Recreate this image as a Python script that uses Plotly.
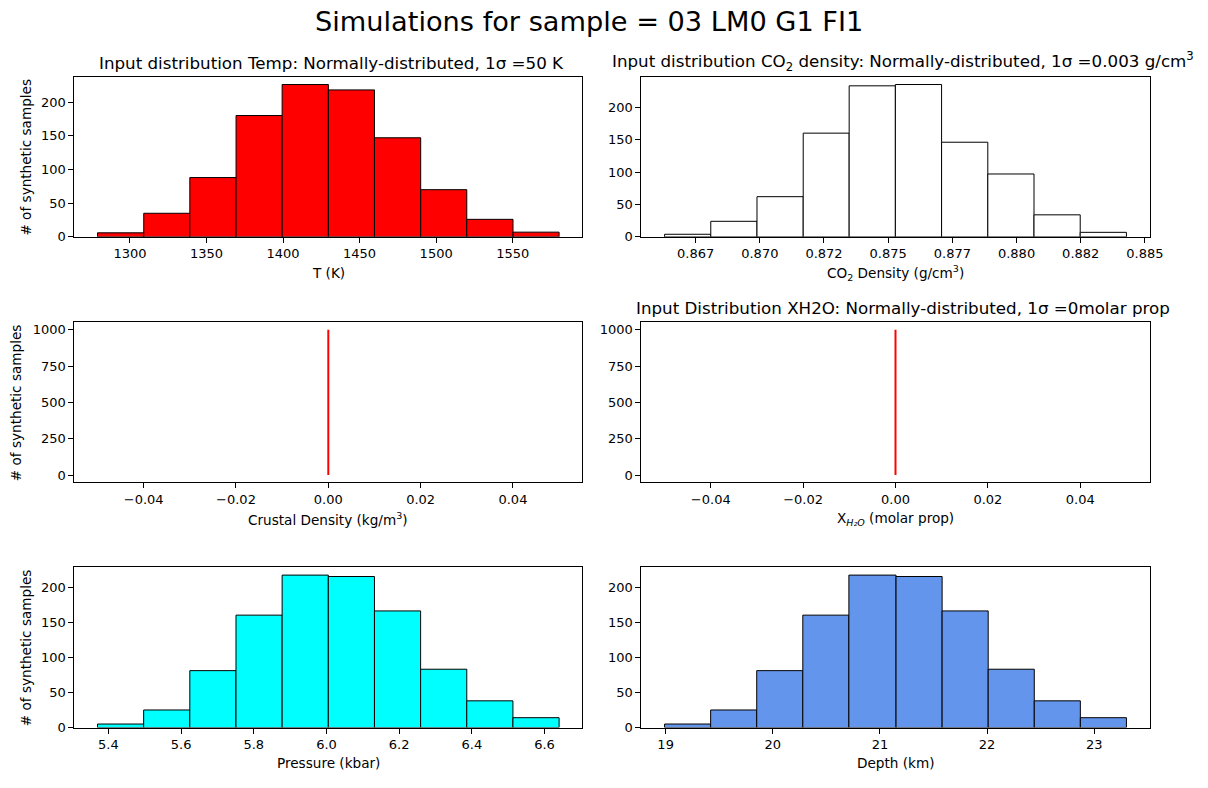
import plotly.graph_objects as go

W, H = 1208, 788

# ---------------- data ----------------
temp_edges = [1278.8, 1309.0, 1339.1, 1369.3, 1399.4, 1429.6, 1459.7, 1489.9, 1520.0, 1550.2, 1580.3]
temp_counts = [6, 35, 88, 180, 226, 218, 147, 70, 26, 7]

co2_edges = [0.86629, 0.86809, 0.86989, 0.87169, 0.87348, 0.87528, 0.87708, 0.87888, 0.88068, 0.88248, 0.88428]
co2_counts = [4, 24, 62, 160, 233, 235, 146, 97, 34, 7]
co2_tickvals = [0.8675, 0.870, 0.8725, 0.875, 0.8775, 0.880, 0.8825, 0.885]
co2_ticktext = ["0.867", "0.870", "0.872", "0.875", "0.877", "0.880", "0.882", "0.885"]

crustal_x = [0.0, 0.0]
crustal_y = [0, 1000]

xh2o_x = [0.0, 0.0]
xh2o_y = [0, 1000]

pressure_edges = [5.370, 5.497, 5.624, 5.751, 5.878, 6.005, 6.132, 6.259, 6.386, 6.513, 6.640]
pressure_counts = [5, 25, 81, 160, 217, 215, 166, 83, 38, 14]

depth_edges = [18.99, 19.42, 19.85, 20.28, 20.71, 21.15, 21.58, 22.01, 22.44, 22.87, 23.30]
depth_counts = [5, 25, 81, 160, 217, 215, 166, 83, 38, 14]

# ---------------- layout geometry (pixels) ----------------
COLS = [(75.3, 589.0), (649.0, 1163.0)]
ROWS = [(77.7, 239.3), (325.7, 487.3), (573.3, 735.0)]

FONT = "DejaVu Sans"
TICK = 13.0
LABEL = 13.6
TITLE = 16.7
SUP = 27.2


def px_x(px):
    return px / W


def px_y(py):
    return 1 - py / H


fig = go.Figure()


def add_hist(edges, counts, color, ax):
    centers = [(edges[i] + edges[i + 1]) / 2 for i in range(len(counts))]
    widths = [edges[i + 1] - edges[i] for i in range(len(counts))]
    fig.add_trace(go.Bar(
        x=centers, y=counts, width=widths,
        marker=dict(color=color, line=dict(color="black", width=1)),
        xaxis="x" + ax, yaxis="y" + ax, showlegend=False, hoverinfo="skip",
    ))


add_hist(temp_edges, temp_counts, "#ff0000", "")
add_hist(co2_edges, co2_counts, "#ffffff", "2")
fig.add_trace(go.Scatter(x=crustal_x, y=crustal_y, mode="lines",
                         line=dict(color="#ff0000", width=2),
                         xaxis="x3", yaxis="y3", showlegend=False, hoverinfo="skip"))
fig.add_trace(go.Scatter(x=xh2o_x, y=xh2o_y, mode="lines",
                         line=dict(color="#ff0000", width=2),
                         xaxis="x4", yaxis="y4", showlegend=False, hoverinfo="skip"))
add_hist(pressure_edges, pressure_counts, "#00ffff", "5")
add_hist(depth_edges, depth_counts, "#6495ed", "6")


def pad_range(lo, hi):
    d = hi - lo
    return [lo - 0.05 * d, hi + 0.05 * d]


axis_common = dict(
    showgrid=False, zeroline=False, showline=True, mirror=True,
    linecolor="black", linewidth=1, ticks="outside", ticklen=5, tickwidth=1,
    tickcolor="black", tickfont=dict(family=FONT, size=TICK, color="black"),
)

layout = {}
specs = [
    ("", 0, 0, pad_range(temp_edges[0], temp_edges[-1]), dict(dtick=50, tick0=0),
     [0, max(temp_counts) * 1.05], dict(dtick=50, tick0=0)),
    ("2", 0, 1, pad_range(co2_edges[0], co2_edges[-1]),
     dict(tickmode="array", tickvals=co2_tickvals, ticktext=co2_ticktext),
     [0, max(co2_counts) * 1.05], dict(dtick=50, tick0=0)),
    ("3", 1, 0, [-0.055, 0.055], dict(dtick=0.02, tick0=0, tickformat=".2f"),
     [-50, 1050], dict(dtick=250, tick0=0)),
    ("4", 1, 1, [-0.055, 0.055], dict(dtick=0.02, tick0=0, tickformat=".2f"),
     [-50, 1050], dict(dtick=250, tick0=0)),
    ("5", 2, 0, pad_range(pressure_edges[0], pressure_edges[-1]), dict(dtick=0.2, tick0=0, tickformat=".1f"),
     [0, max(pressure_counts) * 1.05], dict(dtick=50, tick0=0)),
    ("6", 2, 1, pad_range(depth_edges[0], depth_edges[-1]), dict(dtick=1, tick0=0),
     [0, max(depth_counts) * 1.05], dict(dtick=50, tick0=0)),
]

for aid, r, c, xr, xex, yr, yex in specs:
    x0, x1 = COLS[c]
    y0, y1 = ROWS[r]
    xa = dict(axis_common, domain=[px_x(x0), px_x(x1)], range=xr, anchor="y" + aid, **xex)
    ya = dict(axis_common, domain=[px_y(y1), px_y(y0)], range=yr, anchor="x" + aid, **yex)
    layout["xaxis" + aid] = xa
    layout["yaxis" + aid] = ya

annotations = []


def ann(text, xpx, ypx, size, xanchor="center", yanchor="middle", angle=0):
    annotations.append(dict(
        text=text, x=px_x(xpx), y=px_y(ypx), xref="paper", yref="paper",
        xanchor=xanchor, yanchor=yanchor, showarrow=False, textangle=angle,
        font=dict(family=FONT, size=size, color="black"),
    ))


# super title
ann("Simulations for sample = 03 LM0 G1 FI1", 596, 22, SUP)

# subplot titles
cxL = (COLS[0][0] + COLS[0][1]) / 2
cxR = (COLS[1][0] + COLS[1][1]) / 2
ann("Input distribution Temp: Normally-distributed, 1σ =50 K", cxL + 3, ROWS[0][0] - 14.5, TITLE)
ann("Input distribution CO<sub>2</sub> density: Normally-distributed, 1σ =0.003 g/cm<sup>3</sup>",
    cxR + 8, ROWS[0][0] - 15.5, TITLE)
ann("Input Distribution XH2O: Normally-distributed, 1σ =0molar prop", cxR + 8, ROWS[1][0] - 14.5, TITLE)

# x axis titles
ann("T (K)", cxL, ROWS[0][1] + 36, LABEL)
ann("CO<sub>2</sub> Density (g/cm<sup>3</sup>)", cxR, ROWS[0][1] + 37, LABEL)
ann("Crustal Density (kg/m<sup>3</sup>)", cxL, ROWS[1][1] + 37, LABEL)
ann("X<sub><i>H₂O</i></sub> (molar prop)", cxR, ROWS[1][1] + 37, LABEL)
ann("Pressure (kbar)", cxL, ROWS[2][1] + 36, LABEL)
ann("Depth (km)", cxR, ROWS[2][1] + 36, LABEL)

# y axis titles (left column only); the middle one sits further left (wider tick labels)
ylabel_x = [26, 17, 26]
for r in range(3):
    ann("# of synthetic samples", ylabel_x[r], (ROWS[r][0] + ROWS[r][1]) / 2, LABEL, angle=-90)

fig.update_layout(
    width=W, height=H,
    margin=dict(l=0, r=0, t=0, b=0),
    paper_bgcolor="white", plot_bgcolor="white",
    font=dict(family=FONT, color="black"),
    showlegend=False,
    annotations=annotations,
    barmode="overlay",
    **layout,
)

fig.write_html("out.html")
